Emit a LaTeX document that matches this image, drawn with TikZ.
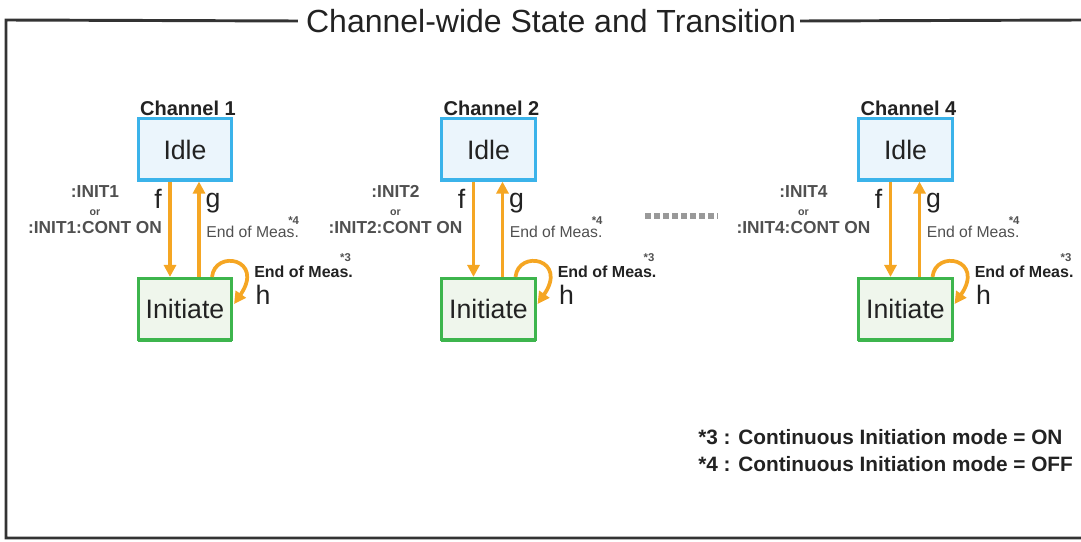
\documentclass[tikz,border=0pt]{standalone}
\usepackage{fontspec}
\setmainfont{Liberation Sans}
\usetikzlibrary{calc,arrows.meta}
\definecolor{idleborder}{HTML}{3BB3EA}
\definecolor{idlefill}{HTML}{EBF5FC}
\definecolor{initborder}{HTML}{3DB54D}
\definecolor{initfill}{HTML}{EFF6EC}
\definecolor{arrowc}{HTML}{F5A623}
\definecolor{framec}{HTML}{333333}
\definecolor{textc}{HTML}{222222}
\definecolor{greytext}{HTML}{505050}
\begin{document}
\begin{tikzpicture}[x=0.75pt,y=-0.75pt,
  statebox/.style={draw, line width=2.1pt, minimum width=70pt, minimum height=46pt, inner sep=0pt,
     font=\fontsize{20}{24}\selectfont, text=textc},
  idlebox/.style={statebox, draw=idleborder, fill=idlefill},
  initbox/.style={statebox, draw=initborder, fill=initfill},
  trans/.style={draw=arrowc, line width=2.8pt, -{Triangle[length=9pt,width=9pt]}},
  letter/.style={anchor=base, inner sep=0pt, font=\fontsize{20}{24}\selectfont, text=textc},
  chlabel/.style={anchor=base, inner sep=0pt, font=\fontsize{15}{17}\selectfont\bfseries, text=textc},
  cmdlabel/.style={align=center, inner sep=0pt, font=\fontsize{13}{14}\selectfont\bfseries, text=greytext},
  meas/.style={anchor=base west, inner sep=0pt, font=\fontsize{11.8}{13}\selectfont, text=greytext},
  measb/.style={anchor=base west, inner sep=0pt, font=\fontsize{12}{13}\selectfont\bfseries, text=textc},
  note/.style={anchor=south east, inner sep=0pt, font=\fontsize{8.5}{9}\selectfont\bfseries, text=greytext},
  legend/.style={anchor=base west, inner sep=0pt, font=\fontsize{15.6}{18}\selectfont\bfseries, text=textc},
  framestyle/.style={draw=framec, line width=2.2pt}]
\useasboundingbox (0,0) rectangle (1081,542);

% title and frame
\node[inner sep=0pt, font=\fontsize{24}{28}\selectfont, text=textc] (title) at (551,21) {Channel-wide State and Transition};
\coordinate (fl) at (6,20);
\coordinate (fbl) at (6,538);
\coordinate (fbr) at (1081,538);
\coordinate (ftr) at (1081,20);
\draw[framestyle] ($(title.west)+(-8,0)$) -- (fl) -- (fbl) -- (fbr);
\draw[framestyle] ($(title.east)+(4,0)$) -- (ftr);

\foreach \n/\cx/\io in {1/185/-90, 2/488.5/-93, 4/905.5/-102}{
  \node[idlebox] (idle\n) at (\cx,149.5) {Idle};
  \node[initbox] (init\n) at (\cx,309) {Initiate};
  \draw[idleborder, line width=3pt] ($(idle\n.south west)+(1,-1.5)$) -- ($(idle\n.south east)+(-1,-1.5)$);
  \draw[initborder, line width=3pt] ($(init\n.south west)+(1,-1.5)$) -- ($(init\n.south east)+(-1,-1.5)$);
  \node[chlabel] (ch\n) at (\cx+3,115) {Channel \n};
  % transitions
  \draw[trans] ($(idle\n.south)+(-15,0)$) -- ($(init\n.north)+(-15,0)$);
  \draw[trans] ($(init\n.north)+(14,0)$) -- ($(idle\n.south)+(14,0)$);
  \draw[trans] ($(init\n.north)+(27,0)$) .. controls ($(init\n.north)+(30,-28)$) and ($(init\n.east)+(32,-50)$) .. ($(init\n.east)+(1,-5)$);
  % labels
  \node[letter] (f\n) at (\cx-27,208) {f};
  \node[letter] (g\n) at (\cx+28,207) {g};
  \node[letter] (h\n) at (\cx+78,304) {h};
  \node[cmdlabel] (cmd\n) at (\cx+\io,210) {:INIT\n\\[-1pt]{\fontsize{8}{9}\selectfont or}\\[0pt]:INIT\n:CONT ON};
  \node[meas] (em\n) at (\cx+21,237) {End of Meas.};
  \node[note] (n4\n) at ($(em\n.north east)+(0,-1)$) {*4};
  \node[measb] (el\n) at (\cx+69,277) {End of Meas.};
  \node[note] (n3\n) at ($(el\n.north east)+(-2,-3)$) {*3};
}

% ellipsis between channels
\coordinate (dotsA) at (645,216);
\coordinate (dotsB) at (718,216);
\draw[draw=gray!80, line width=4.5pt, dash pattern=on 4.5pt off 2.25pt] (dotsA) -- (dotsB);

% legend
\node[legend] (leg3) at (698,444) {*3 : Continuous Initiation mode = ON};
\node[legend] (leg4) at (698,471) {*4 : Continuous Initiation mode = OFF};
\end{tikzpicture}
\end{document}
